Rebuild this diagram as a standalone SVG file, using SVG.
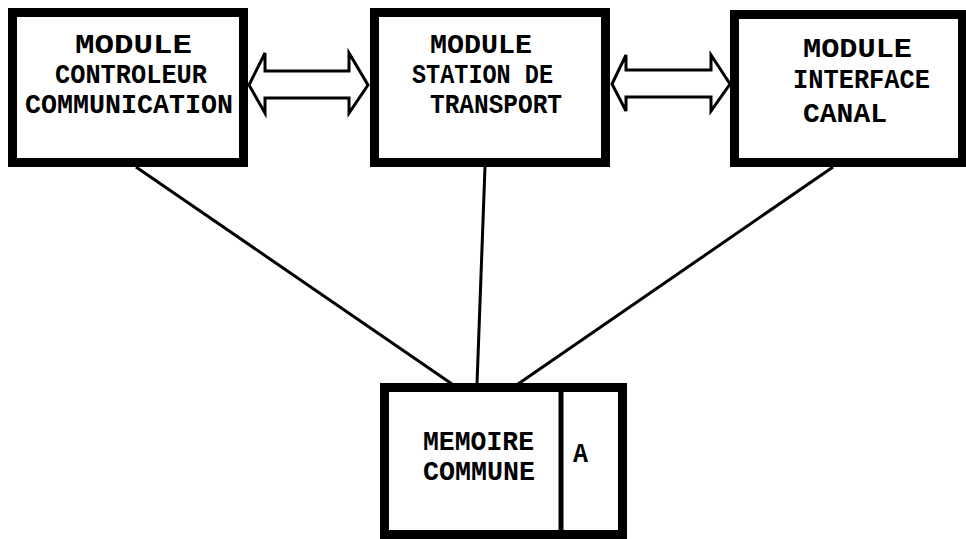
<svg xmlns="http://www.w3.org/2000/svg" width="966" height="539" viewBox="0 0 966 539">
<style>
.box{fill:#fff;stroke:#000;stroke-width:9}
.t{font-family:"Liberation Mono","DejaVu Sans Mono",monospace;font-weight:bold;font-size:27px;fill:#000}
.ln{stroke:#000;stroke-width:3;fill:none}
.arr{fill:#fff;stroke:#000;stroke-width:3;stroke-linejoin:miter}
</style>
<rect width="966" height="539" fill="#fff"/>
<g id="connectors">
<line class="ln" x1="136" y1="167" x2="452" y2="384"/>
<line class="ln" x1="485" y1="167" x2="477" y2="384"/>
<line class="ln" x1="833" y1="167" x2="518" y2="384"/>
<polygon class="arr" points="249,85 265,53 265,71 349,71 349,53 368,85 349,113 349,98 265,98 265,113"/>
<polygon class="arr" points="612,84 626,55 626,70 711,70 711,55 730,84 711,111 711,97 626,97 626,111"/>
</g>
<g id="n1">
<rect class="box" x="12.500" y="12.500" width="231" height="150"/>
<text class="t" x="75" y="53" textLength="117" lengthAdjust="spacingAndGlyphs">MODULE</text>
<text class="t" x="55" y="83" textLength="152" lengthAdjust="spacingAndGlyphs">CONTROLEUR</text>
<text class="t" x="25" y="113" textLength="208" lengthAdjust="spacingAndGlyphs">COMMUNICATION</text>
</g>
<g id="n2">
<rect class="box" x="374.500" y="12.500" width="231" height="150"/>
<text class="t" x="430" y="53" textLength="102" lengthAdjust="spacingAndGlyphs">MODULE</text>
<text class="t" x="412" y="83" textLength="141" lengthAdjust="spacingAndGlyphs">STATION DE</text>
<text class="t" x="430" y="113" textLength="132" lengthAdjust="spacingAndGlyphs">TRANSPORT</text>
</g>
<g id="n3">
<rect class="box" x="734.500" y="14.500" width="228" height="148"/>
<text class="t" x="803" y="57" textLength="109" lengthAdjust="spacingAndGlyphs">MODULE</text>
<text class="t" x="793" y="88" textLength="137" lengthAdjust="spacingAndGlyphs">INTERFACE</text>
<text class="t" x="803" y="122" textLength="84" lengthAdjust="spacingAndGlyphs">CANAL</text>
</g>
<g id="n4">
<rect class="box" x="384.500" y="387.500" width="238" height="147"/>
<line x1="561" y1="388" x2="561" y2="535" stroke="#000" stroke-width="5"/>
<text class="t" x="423" y="450" textLength="111" lengthAdjust="spacingAndGlyphs">MEMOIRE</text>
<text class="t" x="423" y="480" textLength="112" lengthAdjust="spacingAndGlyphs">COMMUNE</text>
<text class="t" x="573" y="462" textLength="15" lengthAdjust="spacingAndGlyphs">A</text>
</g>
</svg>
